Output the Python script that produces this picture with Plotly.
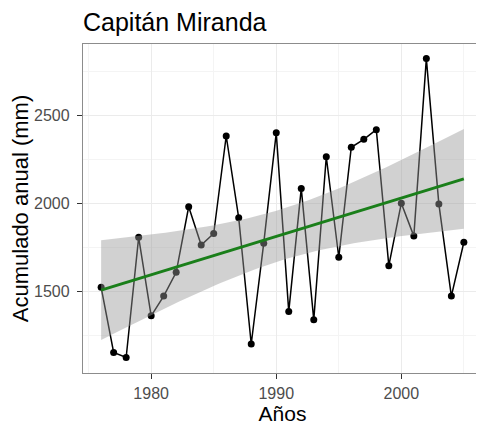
import numpy as np
import plotly.graph_objects as go

years = list(range(1976, 2006))
values = [1522, 1152, 1123, 1806, 1360, 1472, 1607, 1980, 1762, 1828,
          2382, 1917, 1200, 1773, 2400, 1384, 2084, 1337, 2264, 1693,
          2318, 2363, 2418, 1645, 2000, 1813, 2822, 1996, 1472, 1778]

x = np.array(years, dtype=float)
y = np.array(values, dtype=float)
n = len(x)
b1, b0 = np.polyfit(x, y, 1)
resid = y - (b0 + b1 * x)
s = np.sqrt(np.sum(resid ** 2) / (n - 2))
xbar = x.mean()
sxx = np.sum((x - xbar) ** 2)
t_crit = 2.0484  # t(0.975, df=28)
xs = np.linspace(x.min(), x.max(), 80)
fit = b0 + b1 * xs
se = s * np.sqrt(1.0 / n + (xs - xbar) ** 2 / sxx)
upper = fit + t_crit * se
lower = fit - t_crit * se

fig = go.Figure()
fig.add_trace(go.Scatter(x=years, y=values, mode="lines+markers",
                         line=dict(color="black", width=1.5),
                         marker=dict(color="black", size=7),
                         showlegend=False))
fig.add_trace(go.Scatter(x=np.concatenate([xs, xs[::-1]]),
                         y=np.concatenate([upper, lower[::-1]]),
                         fill="toself", fillcolor="rgba(153,153,153,0.45)",
                         line=dict(width=0), mode="lines", hoverinfo="skip",
                         showlegend=False))
fig.add_trace(go.Scatter(x=xs, y=fit, mode="lines",
                         line=dict(color="#1a7f1a", width=3),
                         showlegend=False))

axis_common = dict(
    showline=True, linecolor="#8c8c8c", linewidth=1.3, mirror=True,
    showgrid=True, gridcolor="#EBEBEB", gridwidth=1,
    ticks="outside", ticklen=5, tickcolor="#333333", tickwidth=1,
    tickfont=dict(family="Liberation Sans, Arial", size=16, color="#4D4D4D"),
    zeroline=False, automargin=False,
)

W, H = 476, 417
fig.update_layout(
    width=W, height=H,
    margin=dict(l=75, r=2, t=36, b=52),
    paper_bgcolor="white", plot_bgcolor="white",
    font=dict(family="Liberation Sans, Arial", color="black"),
    title=dict(text="Capitán Miranda", x=0, xref="paper", xanchor="left",
               y=1 - 14.5 / H, yref="container", yanchor="middle",
               font=dict(size=25, color="black"), automargin=False),
    xaxis=dict(axis_common, range=[1974.55, 2006.45],
               tickvals=[1980, 1990, 2000], ticklabelstandoff=1,
               minor=dict(showgrid=True, gridcolor="#F4F4F4", gridwidth=0.6,
                          tickvals=[1975, 1985, 1995, 2005], ticks=""),
               title=dict(text="Años", font=dict(size=21), standoff=3)),
    yaxis=dict(axis_common, range=[1035, 2905],
               tickvals=[1500, 2000, 2500], ticklabelstandoff=4,
               minor=dict(showgrid=True, gridcolor="#F4F4F4", gridwidth=0.6,
                          tickvals=[1250, 1750, 2250, 2750], ticks=""),
               title=dict(text="Acumulado anual (mm)", font=dict(size=22),
                          standoff=1)),
)

fig.write_html("out.html")
